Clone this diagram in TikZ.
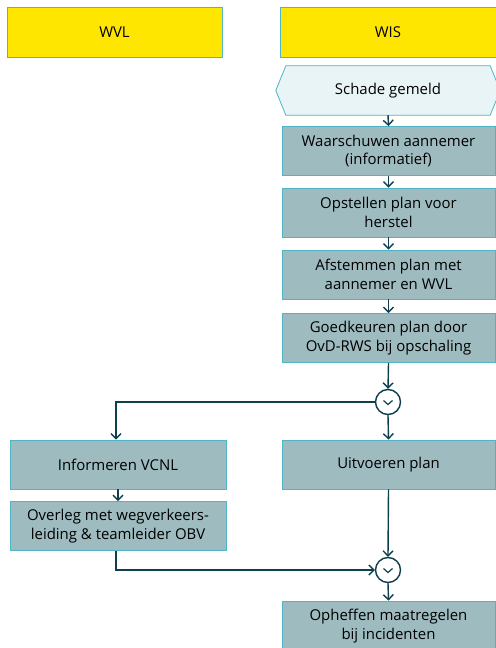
\documentclass[tikz,border=0pt]{standalone}
\usepackage{fontspec}
\setmainfont{Open Sans}
\usetikzlibrary{arrows.meta}
\definecolor{laneyellow}{HTML}{FFE600}
\definecolor{boxfill}{HTML}{9EBBC0}
\definecolor{boxline}{HTML}{4FB4C3}
\definecolor{startfill}{HTML}{E8F4F5}
\definecolor{flowline}{HTML}{0E3F4C}
\tikzset{
  lane/.style={draw=boxline,fill=laneyellow,line width=0.8bp,minimum height=50bp,inner sep=0pt,font=\fontsize{15}{18}\selectfont},
  task/.style={draw=boxline,fill=boxfill,line width=0.8bp,minimum height=49bp,inner sep=0pt,align=center,font=\fontsize{15}{18.5}\selectfont},
  gate/.style={circle,draw=flowline,line width=1.4bp,fill=white,minimum size=25bp,inner sep=0pt},
  flow/.style={draw=flowline,line width=1.4bp,-{Straight Barb[length=5bp,width=10bp]}}
}
\begin{document}
\begin{tikzpicture}[x=1bp,y=-1bp]
\useasboundingbox (0,0) rectangle (496,648);

\node[lane,minimum width=215bp] (wvl) at (114.5,32) {WVL};
\node[lane,minimum width=216bp] (wis) at (388,32) {WIS};

\node[inner sep=0pt,minimum width=204bp,minimum height=49bp,font=\fontsize{15}{18}\selectfont] (start) at (388,90.5) {Schade gemeld};
\path[draw=boxline,fill=startfill,line width=0.8bp] (start.north west) -- (start.north east) -- ([xshift=10bp]start.east) -- (start.south east) -- (start.south west) -- ([xshift=-10bp]start.west) -- cycle;
\node[inner sep=0pt,font=\fontsize{15}{18}\selectfont] at (start) {Schade gemeld};

\node[task,minimum width=213bp] (warn) at (388.5,151) {Waarschuwen aannemer\\(informatief)};
\node[task,minimum width=213bp] (plan) at (388.5,212.5) {Opstellen plan voor\\herstel};
\node[task,minimum width=213bp] (afst) at (388.5,274.5) {Afstemmen plan met\\aannemer en WVL};
\node[task,minimum width=213bp] (goed) at (388.5,338) {Goedkeuren plan door\\OvD-RWS bij opschaling};

\node[gate] (split) at (388,402) {};
\path[draw=flowline,line width=1.2bp] ([xshift=-4.5bp,yshift=1.5bp]split.center) -- ([yshift=-2.5bp]split.center) -- ([xshift=4.5bp,yshift=1.5bp]split.center);

\node[task,minimum width=216bp] (info) at (118,464.5) {Informeren VCNL};
\node[task,minimum width=213bp] (uitv) at (388.5,464.5) {Uitvoeren plan};
\node[task,minimum width=216bp] (overleg) at (118,526) {Overleg met wegverkeers-\\leiding \& teamleider OBV};

\node[gate] (join) at (388,570) {};
\path[draw=flowline,line width=1.2bp] ([xshift=-4.5bp,yshift=1.5bp]join.center) -- ([yshift=-2.5bp]join.center) -- ([xshift=4.5bp,yshift=1.5bp]join.center);

\node[task,minimum width=213bp,minimum height=50bp] (ophef) at (388.5,626) {Opheffen maatregelen\\bij incidenten};

\draw[flow] (start.south) -- (warn.north);
\draw[flow] (warn.south) -- (plan.north);
\draw[flow] (plan.south) -- (afst.north);
\draw[flow] (afst.south) -- (goed.north);
\draw[flow] (goed.south) -- (split.north);
\draw[flow] (split.west) -| ([xshift=-2bp]info.north);
\draw[flow] (split.south) -- (uitv.north);
\draw[flow] (info.south) -- (overleg.north);
\draw[flow] (uitv.south) -- (join.north);
\draw[flow] ([xshift=-2bp]overleg.south) |- (join.west);
\draw[flow] (join.south) -- (ophef.north);
\end{tikzpicture}
\end{document}
